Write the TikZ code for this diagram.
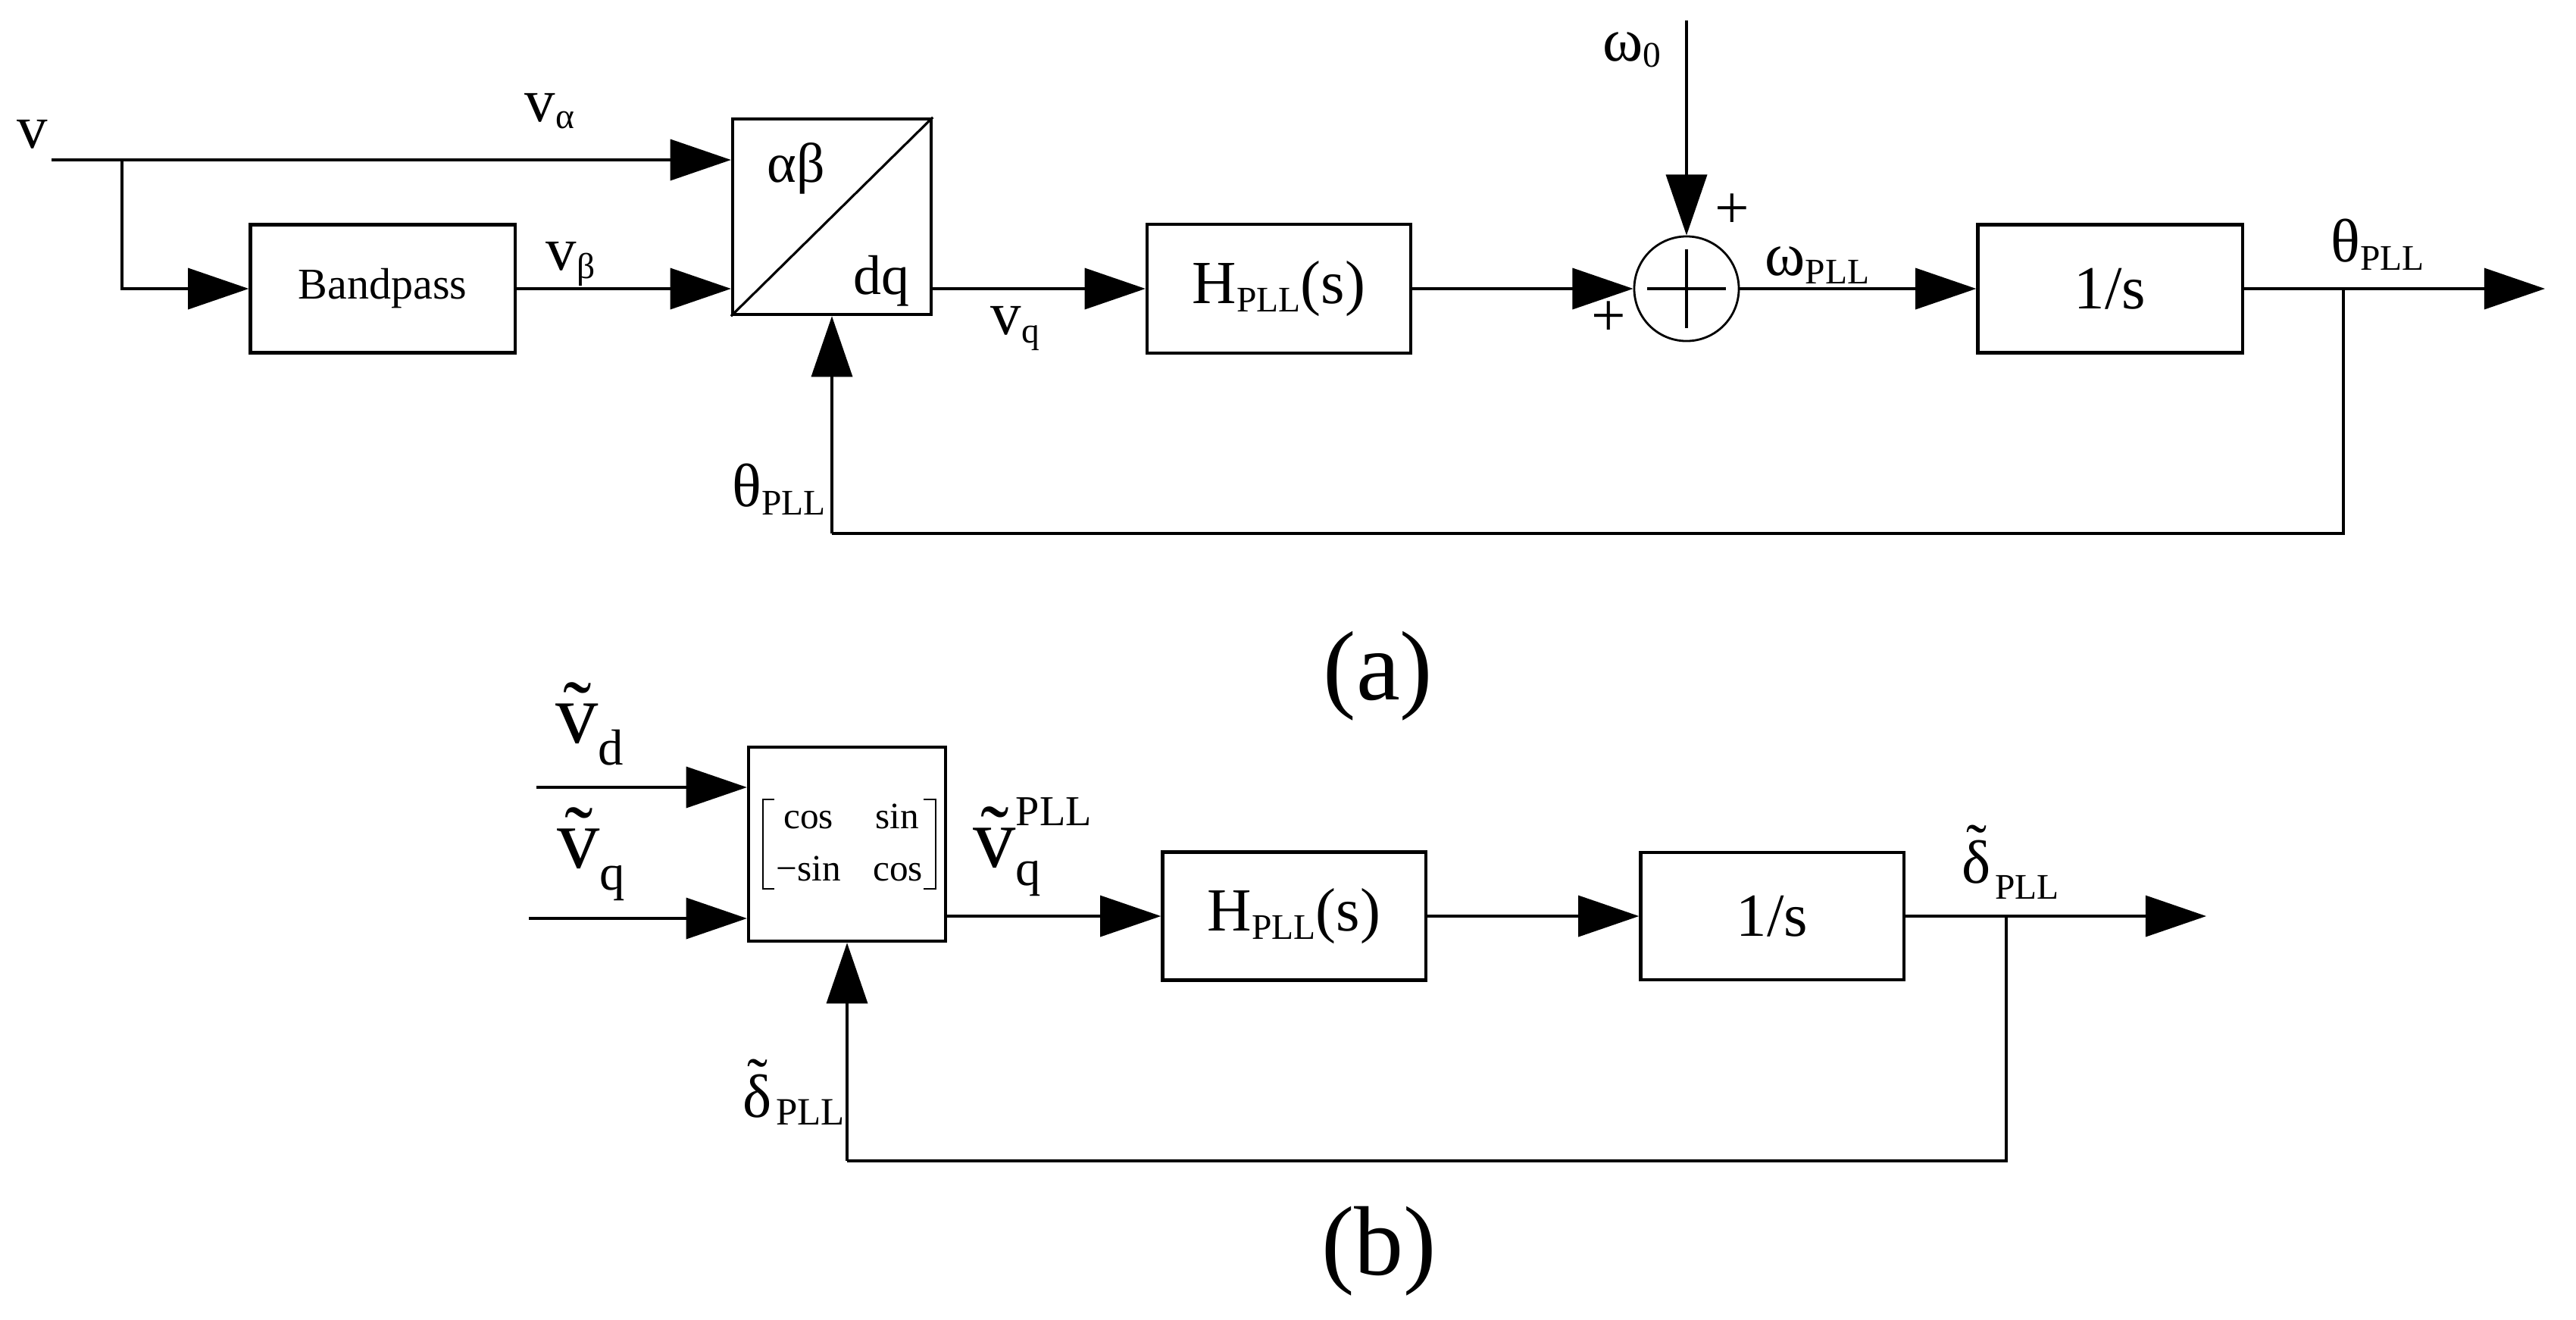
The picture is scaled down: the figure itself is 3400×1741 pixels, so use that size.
\documentclass[tikz,border=0pt]{standalone}
\usepackage{fontspec}
\setmainfont{Liberation Serif}
\usetikzlibrary{arrows.meta}

\newcommand\mainf{\fontsize{23}{27}\selectfont}
\newcommand\subf{\fontsize{13.5}{16}\selectfont}
\newcommand\matf{\fontsize{14}{16}\selectfont}
\newcommand\bigv{\fontsize{32}{36}\selectfont}
\newcommand\bsub{\fontsize{19}{22}\selectfont}
\newcommand\lbl[3][3.2pt]{{\mainf #2}\raisebox{-#1}{\subf #3}}
\newcommand\tld[2][0pt]{\ooalign{#2\cr\hidewidth\raisebox{#1}{\char"02DC}\hidewidth\cr}}

\begin{document}
\begin{tikzpicture}[x=0.01cm,y=-0.01cm,
  every node/.style={inner sep=0pt},
  blk/.style={draw,line width=1.2pt,inner sep=0pt},
  wire/.style={line width=0.9pt},
  arr/.style={wire,-{Triangle[length=22.8pt,width=15.4pt]}},
  lab/.style={inner sep=0pt,anchor=base west}]
\useasboundingbox (0,0) rectangle (3400,1741);

% ---------------- (a) ----------------
\node[blk,minimum width=3.49cm,minimum height=1.69cm] (bp) at (505,381) {\fontsize{16.5}{20}\selectfont Bandpass};
\node[blk,minimum width=2.62cm,minimum height=2.58cm] (T) at (1098,286) {};
\node[blk,minimum width=3.48cm,minimum height=1.70cm] (H1) at (1688,381) {\lbl{H}{PLL}{\mainf(s)}};
\node[draw,circle,line width=0.8pt,minimum size=1.38cm] (S) at (2226,381) {};
\node[blk,minimum width=3.49cm,minimum height=1.69cm] (I1) at (2785,381) {\mainf 1/s};

\coordinate (vin) at (68,211);
\coordinate (j1) at (161,211);
\coordinate (w0) at (2226,27);
\coordinate (out1) at (3359,381);
\coordinate (j2) at (3093,381);
\coordinate (fb1) at (1098,704);

\draw[arr] (vin) -- (vin -| T.west);
\draw[arr] (j1) |- (bp.west);
\draw[arr] (bp.east) -- (bp.east -| T.west);
\draw[wire] (T.south west) -- (T.north east);
\draw[arr] (T.east |- H1.west) -- (H1.west);
\draw[arr] (H1.east) -- (S.west);
\draw[arr] (w0) -- (S.north);
\draw[arr] (S.east) -- (I1.west);
\draw[arr] (I1.east) -- (out1);
\draw[wire] (j2) |- (fb1);
\draw[arr] (fb1) -- (T.south);
\draw[wire] (S.center) ++(-52,0) -- ++(104,0);
\draw[wire] (S.center) ++(0,-52) -- ++(0,104);

\node[lab] (lv) at (22,195) {\mainf v};
\node[lab] (lva) at (692,160) {\lbl[2.8pt]{v}{α}};
\node[lab] (lvb) at (720,356) {\lbl{v}{β}};
\node[lab] (lvq) at (1307,441) {\lbl{v}{q}};
\node[lab] (lth1) at (966,668) {\lbl{θ}{PLL}};
\node[lab] (lw0) at (2115,80) {\lbl[2.3pt]{ω}{0}};
\node[lab] (lwp) at (2329,363) {\lbl{ω}{PLL}};
\node[lab] (lth2) at (3076,345) {\lbl{θ}{PLL}};
\node (p1) at (2286,279) {\mainf +};
\node (p2) at (2123,421) {\mainf +};
\node[anchor=base] (lab1) at (1051,240) {\fontsize{21}{24}\selectfont αβ};
\node[anchor=base] (ldq) at (1163,388) {\fontsize{21}{24}\selectfont dq};
\node (capa) at (1819,892) {\fontsize{37}{40}\selectfont (a)};

% ---------------- (b) ----------------
\node[blk,minimum width=2.60cm,minimum height=2.56cm] (R) at (1118,1114) {};
\node[blk,minimum width=3.47cm,minimum height=1.69cm] (H2) at (1708,1209) {\lbl{H}{PLL}{\mainf(s)}};
\node[blk,minimum width=3.47cm,minimum height=1.68cm] (I2) at (2339,1209) {\mainf 1/s};

\coordinate (vdin) at (708,1039);
\coordinate (vqin) at (698,1212);
\coordinate (out2) at (2912,1209);
\coordinate (j3) at (2648,1209);
\coordinate (fb2) at (1118,1532);

\draw[arr] (vdin) -- (vdin -| R.west);
\draw[arr] (vqin) -- (vqin -| R.west);
\draw[arr] (R.east |- H2.west) -- (H2.west);
\draw[arr] (H2.east) -- (I2.west);
\draw[arr] (I2.east) -- (out2);
\draw[wire] (j3) |- (fb2);
\draw[arr] (fb2) -- (R.south);

\draw[line width=0.6pt] (1022,1055) -- (1007,1055) -- (1007,1173) -- (1022,1173);
\draw[line width=0.6pt] (1219,1055) -- (1235,1055) -- (1235,1173) -- (1219,1173);
\node[anchor=base] (m11) at (1067,1093) {\matf cos};
\node[anchor=base] (m12) at (1184,1093) {\matf sin};
\node[anchor=base] (m21) at (1067,1162) {\matf −sin};
\node[anchor=base] (m22) at (1185,1162) {\matf cos};

\node[lab] (lvd) at (733,980) {{\bigv\tld[1pt]{v}}\raisebox{-8.5pt}{\bsub d}};
\node[lab] (lvq2) at (735,1145) {{\bigv\tld[1pt]{v}}\raisebox{-8.5pt}{\bsub q}};
\node[lab] (lvqp) at (1284,1144) {{\bigv\tld[1pt]{v}}\rlap{\raisebox{15.5pt}{\fontsize{16}{18}\selectfont PLL}}\raisebox{-7pt}{\bsub q}};
\node[lab] (ld1) at (980,1474) {{\mainf\tld[6pt]{δ}}\kern1.5pt\raisebox{-3pt}{\fontsize{14.5}{17}\selectfont PLL}};
\node[lab] (ld2) at (2589,1165) {{\mainf\tld[6pt]{δ}}\kern1.5pt\raisebox{-6pt}{\subf PLL}};
\node (capb) at (1820,1651) {\fontsize{37}{40}\selectfont (b)};
\end{tikzpicture}
\end{document}
